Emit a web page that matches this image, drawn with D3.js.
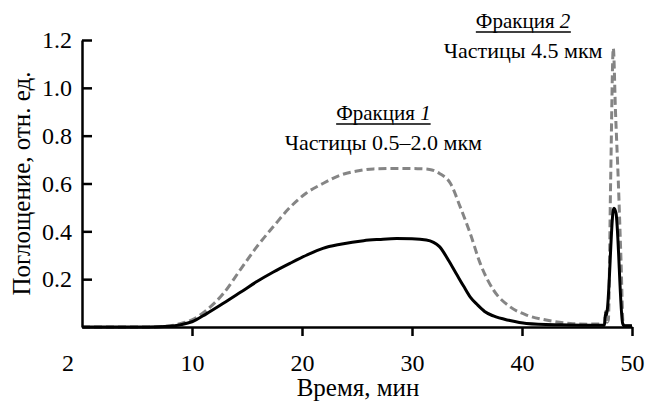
<!DOCTYPE html>
<html>
<head>
<meta charset="utf-8">
<script src="https://cdn.jsdelivr.net/npm/d3@7"></script>
<style>
  body { margin: 0; background: #fff; }
  svg { display: block; }
  svg text { font-family: "Liberation Serif", "Times New Roman", Times, "DejaVu Serif", serif; fill: #000; }
</style>
</head>
<body>
<div id="chart"></div>
<script>
// Time axis (min) and the two absorbance traces
const dashedTime = [0, 6, 8, 9, 10, 11.3, 12.85, 14.4, 15.9, 17.4, 18.9, 20.4, 21.9, 23.5, 25, 26.5, 28.6, 30.5, 31.6, 32.5, 33.5, 34.4, 35.3, 36.2, 37.4, 38.9, 40.4, 42.2, 44.4, 46, 47.5, 47.6, 47.66, 47.72, 47.85, 48.06, 48.3, 48.5, 48.75, 49.0, 49.2, 49.5, 50];
const dashedValue = [0, 0, 0.005, 0.015, 0.03, 0.07, 0.14, 0.24, 0.336, 0.42, 0.50, 0.56, 0.60, 0.635, 0.652, 0.661, 0.663, 0.662, 0.659, 0.642, 0.60, 0.50, 0.39, 0.266, 0.155, 0.085, 0.05, 0.029, 0.015, 0.012, 0.013, 0.065, 0.06, 0.02, 0.03, 0.615, 1.166, 0.9, 0.615, 0.28, 0.01, 0.005, 0.005];

const solidTime = [0, 6, 8, 9, 10, 11.3, 12.85, 14.4, 15.9, 17.4, 18.9, 20.4, 21.9, 23.5, 25.6, 27, 28.6, 30, 31.3, 32.5, 33.3, 34.0, 34.7, 35.3, 35.9, 36.6, 37.4, 38.9, 40.4, 43.5, 46, 47.5, 47.6, 47.66, 47.75, 48.3, 48.36, 48.55, 49.15, 49.3, 50];
const solidValue = [0, 0, 0.003, 0.01, 0.022, 0.055, 0.099, 0.145, 0.19, 0.23, 0.266, 0.30, 0.329, 0.346, 0.361, 0.366, 0.37, 0.369, 0.364, 0.336, 0.28, 0.225, 0.17, 0.125, 0.095, 0.065, 0.046, 0.027, 0.015, 0.009, 0.007, 0.007, 0.06, 0.05, 0.071, 0.49, 0.497, 0.475, 0.015, 0.005, 0.005];

const xTicks = [10, 20, 30, 40, 50];
const yTicks = [0.2, 0.4, 0.6, 0.8, 1.0, 1.2];

const xTitle = "Время, мин";
const yTitle = "Поглощение, отн. ед.";
const fractionTitles = ["Фракция ", "Фракция "];
const fractionNumbers = ["1", "2"];
const fractionSizes = ["Частицы 0.5–2.0 мкм", "Частицы 4.5 мкм"];

// Set the dimensions and margins of the graph
const width = 646, height = 403;
const margin = { top: 40, right: 14, bottom: 76, left: 82 };
const serif = '"Liberation Serif", "Times New Roman", Times, "DejaVu Serif", serif';

const svg = d3.select("#chart")
    .append("svg")
    .attr("width", width)
    .attr("height", height);

const x = d3.scaleLinear().domain([0, 50]).range([margin.left, width - margin.right]);
const y = d3.scaleLinear().domain([0, 1.2]).range([height - margin.bottom, margin.top]);

// Curves
const line = d3.line()
    .x(d => x(d[0]))
    .y(d => y(d[1]))
    .curve(d3.curveMonotoneX);

const dashedData = dashedTime.map((t, i) => [t, dashedValue[i]]);
const solidData = solidTime.map((t, i) => [t, solidValue[i]]);

svg.append("path")
    .datum(dashedData)
    .attr("d", line)
    .attr("fill", "none")
    .attr("stroke", "#858585")
    .attr("stroke-width", 3)
    .attr("stroke-dasharray", "8,4");

svg.append("path")
    .datum(solidData)
    .attr("d", line)
    .attr("fill", "none")
    .attr("stroke", "#000")
    .attr("stroke-width", 3);

// X axis
const xAxis = svg.append("g")
    .attr("transform", `translate(0,${y(0)})`)
    .call(d3.axisBottom(x).tickValues(xTicks).tickSize(9).tickSizeOuter(0).tickPadding(18));

// Y axis, ticks pointing inwards
const yAxis = svg.append("g")
    .attr("transform", `translate(${x(0)},0)`)
    .call(d3.axisLeft(y).tickValues(yTicks).tickSize(-10).tickSizeOuter(0).tickPadding(10)
        .tickFormat(d3.format(".1f")));

[xAxis, yAxis].forEach(g => {
    g.attr("font-family", serif).attr("font-size", 24);
    g.select(".domain").attr("stroke", "#000").attr("stroke-width", 2.5);
    g.selectAll(".tick line").attr("stroke", "#000").attr("stroke-width", 2.5);
    g.selectAll(".tick text")
        .attr("fill", "#000")
        .style("font-family", serif)
        .style("font-size", "24px");
});

// the lone "2" at the origin
svg.append("text")
    .attr("x", x(0) - 14)
    .attr("y", y(0) + 44)
    .attr("text-anchor", "middle")
    .style("font-family", serif)
    .style("font-size", "24px")
    .text("2");

// Axis titles
svg.append("text")
    .attr("x", 358)
    .attr("y", 396)
    .attr("text-anchor", "middle")
    .style("font-family", serif)
    .style("font-size", "25px")
    .text(xTitle);

svg.append("text")
    .attr("transform", `translate(30,${(y(0) + y(1.2)) / 2}) rotate(-90)`)
    .attr("text-anchor", "middle")
    .style("font-family", serif)
    .style("font-size", "25px")
    .text(yTitle);

// Fraction annotations
const annot = [
    { cx: 27.4, titleY: 0.865, subY: 0.74 },
    { cx: 40.1, titleY: 1.25, subY: 1.125 }
];

annot.forEach((a, i) => {
    const t = svg.append("text")
        .attr("x", x(a.cx))
        .attr("y", y(a.titleY))
        .attr("text-anchor", "middle")
        .style("font-family", serif)
        .style("font-size", "21px");
    t.append("tspan").text(fractionTitles[i]);
    t.append("tspan").style("font-style", "italic").text(fractionNumbers[i]);

    const bb = t.node().getBBox();
    svg.append("line")
        .attr("x1", bb.x)
        .attr("x2", bb.x + bb.width)
        .attr("y1", y(a.titleY) + 4)
        .attr("y2", y(a.titleY) + 4)
        .attr("stroke", "#000")
        .attr("stroke-width", 1.5);

    svg.append("text")
        .attr("x", x(a.cx))
        .attr("y", y(a.subY))
        .attr("text-anchor", "middle")
        .style("font-family", serif)
        .style("font-size", "22px")
        .text(fractionSizes[i]);
});
</script>
</body>
</html>
